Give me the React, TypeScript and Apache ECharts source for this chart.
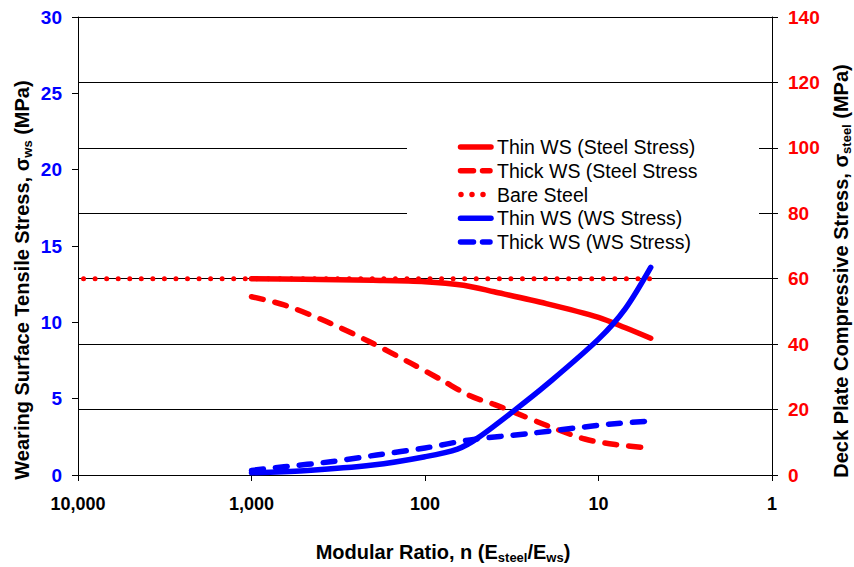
import React, { useEffect, useRef } from 'react';
import * as echarts from 'echarts';

const legendNames = [
  'Thin WS (Steel Stress)',
  'Thick WS (Steel Stress',
  'Bare Steel',
  'Thin WS (WS Stress)',
  'Thick WS (WS Stress)',
];
const bareSteelN = [10000, 5];
const bareSteelStress = [60, 60];
const thinSteelN = [1000, 500, 200, 100, 60, 40, 20, 10, 7, 5];
const thinSteelStress = [60, 59.8, 59.5, 59.1, 58.0, 56.0, 52.4, 48.2, 45.0, 41.8];
const thickSteelN = [1000, 650, 370, 210, 120, 80, 55, 40, 30, 20, 12, 8, 5];
const thickSteelStress = [54.5, 52.0, 46.9, 40.8, 34.1, 29.0, 24.2, 21.6, 19.0, 15.2, 11.0, 9.3, 8.2];
const thinWsN = [1000, 500, 200, 100, 65, 50, 30, 20, 10, 7, 5];
const thinWsStress = [0.15, 0.28, 0.65, 1.2, 1.7, 2.4, 4.3, 5.9, 8.9, 10.9, 13.6];
const thickWsN = [1000, 650, 350, 190, 100, 55, 25, 14, 8.4, 5];
const thickWsStress = [0.3, 0.54, 0.87, 1.31, 1.77, 2.3, 2.72, 3.06, 3.34, 3.54];

const FONT = 'Liberation Sans, Arial, sans-serif';
const RED = '#FF0000';
const BLUE = '#0000FF';
const DASH = [12, 12];
const DOT = [0, 11.55];

const zip = (xs: number[], ys: number[]) => xs.map((x, i) => [x, ys[i]]);

const titleRich = {
  b: { fontSize: 20, fontWeight: 'bold', fontFamily: FONT, fill: '#000', lineHeight: 24, verticalAlign: 'middle' },
  s: { fontSize: 13, fontWeight: 'bold', fontFamily: FONT, fill: '#000', lineHeight: 16, verticalAlign: 'bottom' },
};

const legendStyles = [
  { color: RED, dash: null as number[] | null, x1: 460.5, x2: 491 },
  { color: RED, dash: [13, 9], x1: 460.5, x2: 490 },
  { color: RED, dash: [0, 11], x1: 461, x2: 494 },
  { color: BLUE, dash: null, x1: 460.5, x2: 491 },
  { color: BLUE, dash: [13, 9], x1: 460.5, x2: 490 },
];

export default function App() {
  const ref = useRef<HTMLDivElement>(null);
  useEffect(() => {
    if (!ref.current) return;
    const chart = echarts.init(ref.current, null, { renderer: 'svg' });
    const mkLine = (name: string, data: number[][], yIdx: number, color: string, type: any, z = 2) => ({
      name,
      type: 'line',
      yAxisIndex: yIdx,
      data,
      symbol: 'none',
      showSymbol: false,
      smooth: 0.3,
      z,
      lineStyle: { color, width: 5.5, type, cap: 'round', join: 'round' },
      itemStyle: { color },
      emphasis: { disabled: true },
    });
    const legendGraphics: any[] = [];
    legendNames.forEach((name, i) => {
      const y = 147 + i * 23.75;
      const st = legendStyles[i];
      legendGraphics.push({
        type: 'line',
        z: 5,
        silent: true,
        shape: { x1: st.x1, y1: y, x2: st.x2, y2: y },
        style: {
          stroke: st.color,
          lineWidth: 5.5,
          lineCap: 'round',
          lineDash: st.dash || undefined,
        },
      });
      legendGraphics.push({
        type: 'text',
        z: 5,
        silent: true,
        x: 497,
        y,
        style: {
          text: name,
          fill: '#000',
          fontSize: 19.5,
          fontFamily: FONT,
          align: 'left',
          verticalAlign: 'middle',
        },
      });
    });
    const option: any = {
      animation: false,
      textStyle: { fontFamily: FONT },
      grid: { left: 78, right: 82, top: 17, bottom: 92, containLabel: false },
      xAxis: {
        type: 'log',
        logBase: 10,
        min: 1,
        max: 10000,
        inverse: true,
        axisLine: { show: true, onZero: false, lineStyle: { color: '#000', width: 1 } },
        axisTick: { show: true, inside: false, length: 6, lineStyle: { color: '#000' } },
        minorTick: { show: false },
        splitLine: { show: false },
        axisLabel: {
          color: '#000',
          fontSize: 18,
          fontWeight: 'bold',
          fontFamily: FONT,
          margin: 20,
          formatter: (v: number) => Math.round(v).toLocaleString('en-US'),
        },
      },
      yAxis: [
        {
          type: 'value',
          position: 'left',
          min: 0,
          max: 30,
          interval: 5,
          axisLine: { show: true, lineStyle: { color: '#000', width: 1 } },
          axisTick: { show: true, length: 6, lineStyle: { color: '#000' } },
          splitLine: { show: false },
          axisLabel: { color: BLUE, fontSize: 19, fontWeight: 'bold', fontFamily: FONT, margin: 16 },
        },
        {
          type: 'value',
          position: 'right',
          min: 0,
          max: 140,
          interval: 20,
          axisLine: { show: true, lineStyle: { color: '#000', width: 1 } },
          axisTick: { show: true, length: 6, lineStyle: { color: '#000' } },
          splitLine: { show: true, lineStyle: { color: '#000', width: 1 } },
          axisLabel: { color: RED, fontSize: 19, fontWeight: 'bold', fontFamily: FONT, margin: 16 },
        },
      ],
      graphic: [
        { type: 'rect', z: 1, silent: true, shape: { x: 407, y: 128, width: 352, height: 130 }, style: { fill: '#fff' } },
        ...legendGraphics,
        {
          type: 'text',
          x: 443,
          y: 552,
          style: {
            text: '{b|Modular Ratio, n (E}{s|steel}{b|/E}{s|ws}{b|)}',
            rich: titleRich,
            align: 'center',
            verticalAlign: 'middle',
          },
        },
        {
          type: 'text',
          x: 22,
          y: 280,
          rotation: Math.PI / 2,
          style: {
            text: '{b|Wearing Surface Tensile Stress, σ}{s|ws}{b| (MPa)}',
            rich: titleRich,
            align: 'center',
            verticalAlign: 'middle',
          },
        },
        {
          type: 'text',
          x: 841,
          y: 271,
          rotation: Math.PI / 2,
          style: {
            text: '{b|Deck Plate Compressive Stress, σ}{s|steel}{b| (MPa)}',
            rich: titleRich,
            align: 'center',
            verticalAlign: 'middle',
          },
        },
      ],
      series: [
        mkLine(legendNames[0], zip(thinSteelN, thinSteelStress), 1, RED, 'solid'),
        mkLine(legendNames[1], zip(thickSteelN, thickSteelStress), 1, RED, DASH),
        {
          ...mkLine(legendNames[2], zip(bareSteelN, bareSteelStress), 1, RED, DOT),
          smooth: false,
          lineStyle: { color: RED, width: 5, type: DOT, cap: 'round', dashOffset: 5.55 },
        },
        mkLine(legendNames[3], zip(thinWsN, thinWsStress), 0, BLUE, 'solid', 3),
        mkLine(legendNames[4], zip(thickWsN, thickWsStress), 0, BLUE, DASH, 3),
      ],
    };
    chart.setOption(option);
    return () => chart.dispose();
  }, []);
  return <div ref={ref} style={{ position: 'fixed', left: 0, top: 0, width: 854, height: 567, background: '#fff' }} />;
}
